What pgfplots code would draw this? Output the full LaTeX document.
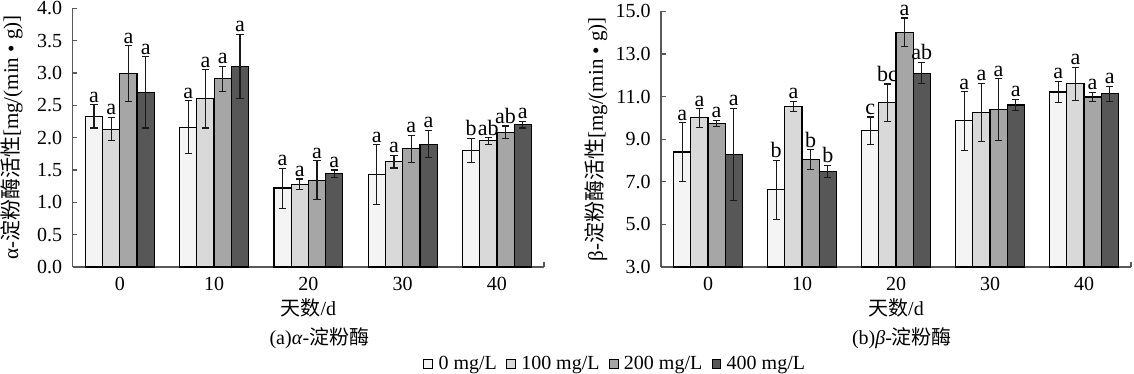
\documentclass[border=0pt]{standalone}
\usepackage{pgfplots}
\pgfplotsset{compat=1.18}
\usepackage{pgfplotstable}
\usepackage{fontspec}
\setmainfont{Liberation Serif}
\newfontfamily\cjk{Noto Sans CJK SC}
\definecolor{c0}{HTML}{F4F4F4}
\definecolor{c1}{HTML}{D9D9D9}
\definecolor{c2}{HTML}{A6A6A6}
\definecolor{c3}{HTML}{575757}

% alpha-amylase
\pgfplotstableread{
x y e lab
0 2.33 0.18 a
1 2.16 0.41 a
2 1.22 0.31 a
3 1.43 0.46 a
4 1.80 0.19 b
}\Aa
\pgfplotstableread{
x y e lab
0 2.13 0.18 a
1 2.60 0.45 a
2 1.28 0.08 a
3 1.63 0.10 a
4 1.95 0.05 ab
}\Ab
\pgfplotstableread{
x y e lab
0 2.99 0.43 a
1 2.91 0.19 a
2 1.34 0.30 a
3 1.83 0.21 a
4 2.08 0.10 ab
}\Ac
\pgfplotstableread{
x y e lab
0 2.70 0.55 a
1 3.10 0.50 a
2 1.44 0.06 a
3 1.90 0.21 a
4 2.20 0.05 a
}\Ad
% beta-amylase
\pgfplotstableread{
x y e lab
0 8.40 1.37 a
1 6.62 1.39 b
2 9.39 0.65 c
3 9.86 1.37 a
4 11.22 0.50 a
}\Ba
\pgfplotstableread{
x y e lab
0 10.00 0.43 a
1 10.55 0.24 a
2 10.71 0.88 bc
3 10.26 1.37 a
4 11.60 0.78 a
}\Bb
\pgfplotstableread{
x y e lab
0 9.74 0.14 a
1 8.04 0.46 b
2 14.02 0.67 a
3 10.38 1.46 a
4 10.98 0.21 a
}\Bc
\pgfplotstableread{
x y e lab
0 8.29 2.17 a
1 7.48 0.29 b
2 12.10 0.50 ab
3 10.61 0.25 a
4 11.13 0.35 a
}\Bd

\pgfplotsset{
  barsty/.style={ybar, /pgf/bar shift=0pt, bar width=8.6pt, draw=black, line width=0.6pt, fill=#1},
  errsty/.style={draw=none, mark=none, forget plot,
    error bars/y dir=both, error bars/y explicit,
    error bars/error bar style={line width=0.55pt, draw=black!90},
    error bars/error mark options={rotate=90, mark size=1.8pt, line width=0.55pt, draw=black!90}},
  labsty/.style={draw=none, mark=none, forget plot,
    nodes near coords, point meta=explicit symbolic,
    nodes near coords style={anchor=south, inner sep=1pt, text=black, font=\fontsize{11}{12}\selectfont}},
  common/.style={scale only axis,
    xmin=-0.5, xmax=4.5,
    xtick={4.5}, xticklabels={},
    extra x ticks={0,1,2,3,4}, extra x tick labels={0,10,20,30,40},
    extra x tick style={major tick length=0pt},
    tick align=inside, major tick length=2.3pt,
    axis x line*=bottom, axis y line*=left,
    axis line style={-, draw=black!65, line width=0.6pt},
    tick style={draw=black!65, line width=0.6pt},
    minor tick num=0,
    /pgf/number format/assume math mode=true,
    y tick label style={/pgf/number format/fixed, /pgf/number format/fixed zerofill, /pgf/number format/precision=1},
    yticklabel style={xshift=-1.7pt},
    xticklabel style={yshift=-1.4pt},
    tick label style={font=\fontsize{10}{12}\selectfont},
    label style={font=\fontsize{10}{12}\selectfont},
    xlabel={{\cjk 天数}/d},
    xlabel style={at={(axis description cs:0.5,0)}, anchor=center, yshift=-20.25pt},
  },
}
% offsets of the four bars within a group, in axis units (bar width 8.6pt ~ 0.183 units)
\def\oa{-0.2745}\def\ob{-0.0915}\def\oc{0.0915}\def\od{0.2745}

\begin{document}
\begin{tikzpicture}
\path[use as bounding box] (-36.35pt,-53.5pt) rectangle (530.65pt,133.5pt);
\begin{axis}[common, name=A, at={(0pt,0pt)}, anchor=south west,
  width=235.7pt, height=129.35pt,
  ymin=0, ymax=4, ytick={0,0.5,1,1.5,2,2.5,3,3.5,4},
  ylabel={α-{\cjk 淀粉酶活性}[mg/(min • g)]},
  ylabel style={at={(axis description cs:-0.130,0.5)}, anchor=center, font=\fontsize{10.5}{12}\selectfont},
  legend columns=4,
  legend style={at={(axis description cs:1.1504,-0.375)}, anchor=center, draw=none, fill=none,
    inner sep=0pt, font=\fontsize{10}{12}\selectfont, nodes={inner sep=0.8pt},
    /tikz/every odd column/.append style={column sep=2pt},
    /tikz/every even column/.append style={column sep=3.8pt}},
  legend image code/.code={\draw[#1, draw=black, line width=0.4pt] (0pt,-2.2pt) rectangle (4.4pt,2.2pt);},
]
\addplot[barsty=c0] table[x expr=\thisrow{x}+\oa, y=y]{\Aa};
\addplot[barsty=c1] table[x expr=\thisrow{x}+\ob, y=y]{\Ab};
\addplot[barsty=c2] table[x expr=\thisrow{x}+\oc, y=y]{\Ac};
\addplot[barsty=c3] table[x expr=\thisrow{x}+\od, y=y]{\Ad};
\legend{0 mg/L, 100 mg/L, 200 mg/L, 400 mg/L}
\addplot[errsty] table[x expr=\thisrow{x}+\oa, y=y, y error=e]{\Aa};
\addplot[errsty] table[x expr=\thisrow{x}+\ob, y=y, y error=e]{\Ab};
\addplot[errsty] table[x expr=\thisrow{x}+\oc, y=y, y error=e]{\Ac};
\addplot[errsty] table[x expr=\thisrow{x}+\od, y=y, y error=e]{\Ad};
\addplot[labsty] table[x expr=\thisrow{x}+\oa, y expr=\thisrow{y}+\thisrow{e}, meta=lab]{\Aa};
\addplot[labsty] table[x expr=\thisrow{x}+\ob, y expr=\thisrow{y}+\thisrow{e}, meta=lab]{\Ab};
\addplot[labsty] table[x expr=\thisrow{x}+\oc, y expr=\thisrow{y}+\thisrow{e}, meta=lab]{\Ac};
\addplot[labsty] table[x expr=\thisrow{x}+\od, y expr=\thisrow{y}+\thisrow{e}, meta=lab]{\Ad};
\end{axis}

\begin{axis}[common, name=B, at={(294.15pt,0pt)}, anchor=south west,
  width=235pt, height=127.8pt,
  ymin=3, ymax=15, ytick={3,5,7,9,11,13,15},
  ylabel={β-{\cjk 淀粉酶活性}[mg/(min • g)]},
  ylabel style={at={(axis description cs:-0.138,0.5)}, anchor=center, font=\fontsize{10.5}{12}\selectfont},
]
\addplot[barsty=c0] table[x expr=\thisrow{x}+\oa, y=y]{\Ba};
\addplot[barsty=c1] table[x expr=\thisrow{x}+\ob, y=y]{\Bb};
\addplot[barsty=c2] table[x expr=\thisrow{x}+\oc, y=y]{\Bc};
\addplot[barsty=c3] table[x expr=\thisrow{x}+\od, y=y]{\Bd};
\addplot[errsty] table[x expr=\thisrow{x}+\oa, y=y, y error=e]{\Ba};
\addplot[errsty] table[x expr=\thisrow{x}+\ob, y=y, y error=e]{\Bb};
\addplot[errsty] table[x expr=\thisrow{x}+\oc, y=y, y error=e]{\Bc};
\addplot[errsty] table[x expr=\thisrow{x}+\od, y=y, y error=e]{\Bd};
\addplot[labsty] table[x expr=\thisrow{x}+\oa, y expr=\thisrow{y}+\thisrow{e}, meta=lab]{\Ba};
\addplot[labsty] table[x expr=\thisrow{x}+\ob, y expr=\thisrow{y}+\thisrow{e}, meta=lab]{\Bb};
\addplot[labsty] table[x expr=\thisrow{x}+\oc, y expr=\thisrow{y}+\thisrow{e}, meta=lab]{\Bc};
\addplot[labsty] table[x expr=\thisrow{x}+\od, y expr=\thisrow{y}+\thisrow{e}, meta=lab]{\Bd};
\end{axis}

\node[font=\fontsize{10}{12}\selectfont, anchor=center] at ([xshift=5.5pt, yshift=-35.5pt]A.south) {(a)\textit{α}-{\cjk 淀粉酶}};
\node[font=\fontsize{10}{12}\selectfont, anchor=center] at ([xshift=3pt, yshift=-35.5pt]B.south) {(b)\textit{β}-{\cjk 淀粉酶}};
\end{tikzpicture}
\end{document}
